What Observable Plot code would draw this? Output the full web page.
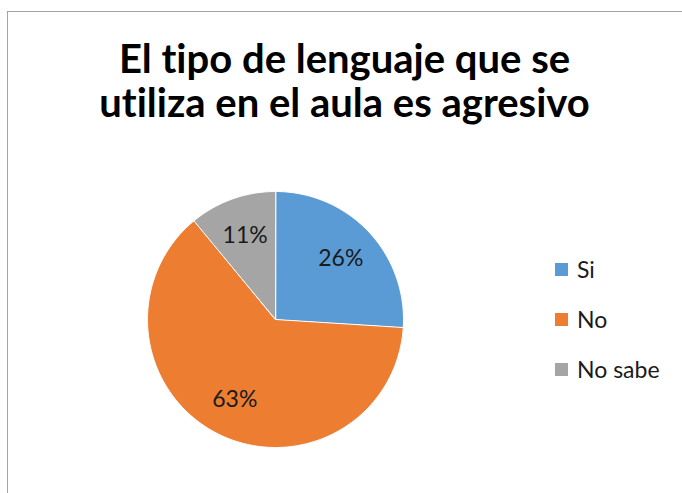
<!DOCTYPE html>
<html><head><meta charset="utf-8">
<script src="https://cdn.jsdelivr.net/npm/d3@7"></script>
<script src="https://cdn.jsdelivr.net/npm/@observablehq/plot@0.6"></script>
<style>
body{margin:0;background:#fff;}
#wrap{position:relative;width:682px;height:493px;overflow:hidden;font-family:Lato,"Open Sans",sans-serif;font-variant-ligatures:none;}
#wrap svg text{font-variant-ligatures:none;}
#frame{position:absolute;left:7px;top:11px;width:720px;height:520px;border:1px solid #a3a3a3;box-sizing:border-box;}
#chart{position:absolute;left:0;top:0;}
#legend{position:absolute;left:555px;top:244px;}
.item{display:flex;align-items:center;height:50px;font-size:23px;color:#1a1a1a;}
.sw{width:13px;height:13px;margin-right:9px;}
</style></head>
<body><div id="wrap"><div id="frame"></div><div id="chart"></div><div id="legend"></div></div>
<script>
const title = "El tipo de lenguaje que se\nutiliza en el aula es agresivo";
const categories = ["Si", "No", "No sabe"];
const values = [26, 63, 11];
const labels = ["26%", "63%", "11%"];
const colors = ["#5B9BD5", "#ED7D31", "#A5A5A5"];

const total = d3.sum(values);
let acc = 0;
const slices = categories.map((c, i) => {
  const a0 = acc / total * 2 * Math.PI;
  acc += values[i];
  const a1 = acc / total * 2 * Math.PI;
  return {cat: c, a0, a1, mid: (a0 + a1) / 2, label: labels[i]};
});
const pts = [];
for (const s of slices) {
  pts.push({cat: s.cat, x: 0, y: 0});
  const n = Math.max(2, Math.ceil((s.a1 - s.a0) / (Math.PI / 180)));
  for (let k = 0; k <= n; k++) {
    const a = s.a0 + (s.a1 - s.a0) * k / n;
    pts.push({cat: s.cat, x: Math.sin(a), y: Math.cos(a)});
  }
}
const cx = 275, cy = 319, R = 128;
const chart = Plot.plot({
  width: 682, height: 493, margin: 0,
  x: {domain: [-1, 1], range: [cx - R, cx + R], axis: null},
  y: {domain: [-1, 1], range: [cy + R, cy - R], axis: null},
  color: {domain: categories, range: colors},
  style: {fontFamily: "Lato, 'Open Sans', sans-serif", background: "transparent", fontVariantLigatures: "none"},
  marks: [
    Plot.line(pts, {x: "x", y: "y", z: "cat", fill: "cat", stroke: "white", strokeWidth: 1, curve: "linear-closed"}),
    Plot.text(slices, {x: d => 0.7 * Math.sin(d.mid), y: d => 0.7 * Math.cos(d.mid), text: "label", fontSize: 23, fill: "#1a1a1a"}),
    Plot.text([title], {frameAnchor: "top", dx: 3, dy: 41, lineAnchor: "top", lineHeight: 1.1, fontSize: 40, fontWeight: "bold", fill: "#000"})
  ]
});
document.getElementById("chart").appendChild(chart);
const leg = d3.select("#legend");
categories.forEach((c, i) => {
  const it = leg.append("div").attr("class", "item");
  it.append("div").attr("class", "sw").style("background", colors[i]);
  it.append("span").text(c);
});
</script></body></html>
